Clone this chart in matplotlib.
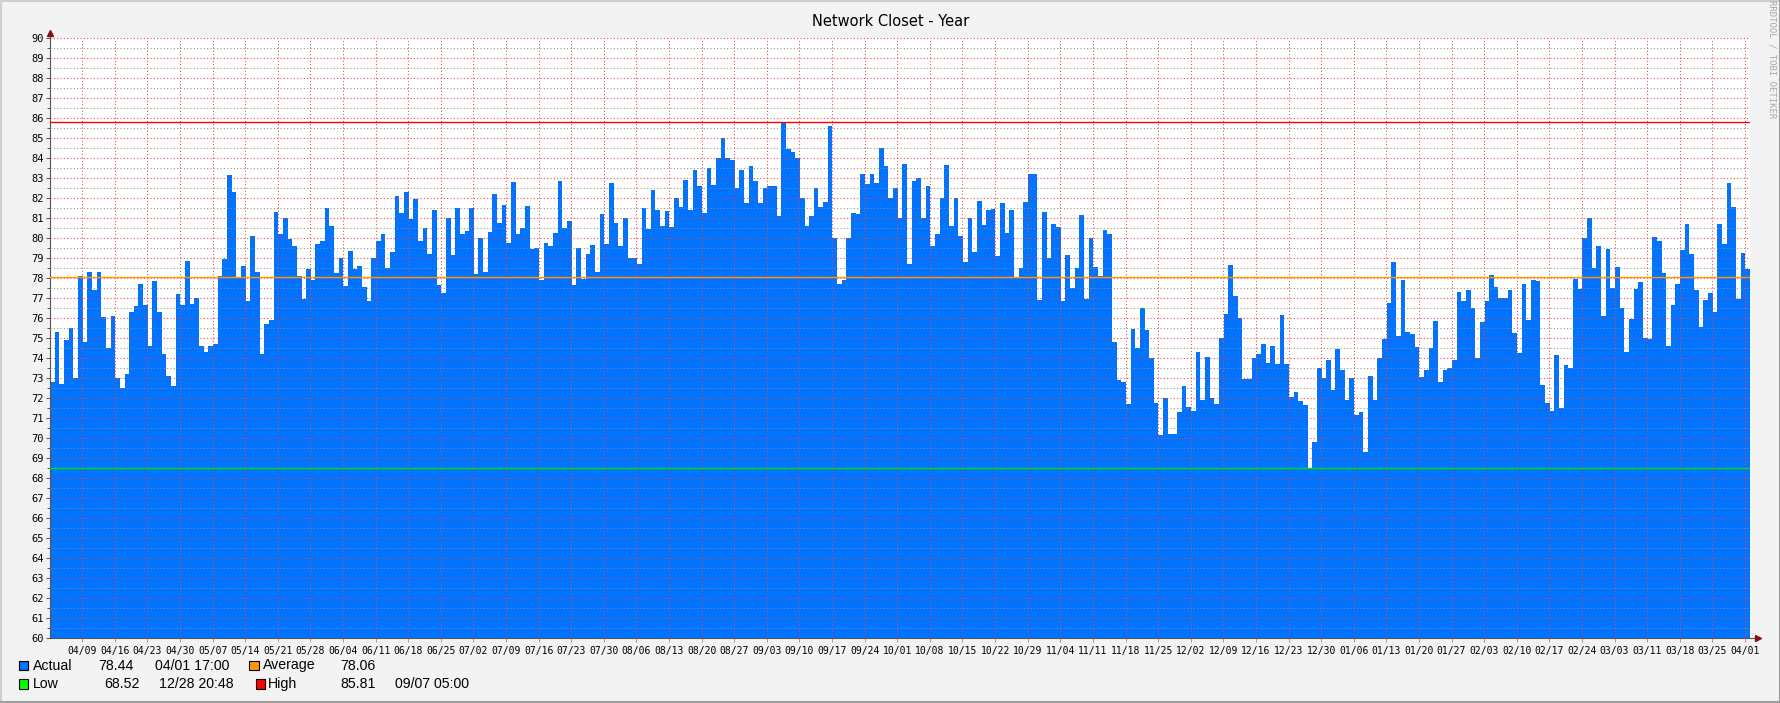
import numpy as np
import matplotlib.pyplot as plt
from matplotlib.patches import Rectangle
from matplotlib.lines import Line2D

plt.rcParams['font.family'] = 'DejaVu Sans Mono'

# daily temperature readings, 2017-04-02 .. 2018-04-01
start = np.datetime64('2017-04-02T02:00')
spring = [72.8, 75.3, 72.7, 74.9, 75.5, 73.0, 78.1, 74.8, 78.3, 77.4,
          78.3, 76.05, 74.5, 76.1, 73.0, 72.5, 73.2, 76.3, 76.6, 77.7,
          76.65, 74.6, 77.85, 76.3, 74.2, 73.1, 72.6, 77.2, 76.65, 78.85,
          76.7, 77.0, 74.6, 74.3, 74.6, 74.7, 78.1, 78.95, 83.15, 82.3,
          78.0, 78.6, 76.85, 80.1, 78.3, 74.2, 75.7, 75.9, 81.3, 80.2,
          81.0, 79.95, 79.6, 78.1, 76.95, 78.45, 77.9, 79.7, 79.85, 81.5,
          80.6, 78.25, 79.0, 77.6, 79.35, 78.45, 78.6, 77.55, 76.85, 79.0,
          79.85, 80.2, 78.5, 79.3, 82.1, 81.25, 82.3, 80.95, 81.95, 79.85,
          80.5, 79.2, 81.4, 77.65, 77.25, 81.0, 79.15, 81.5, 80.2, 80.35, 81.5]
summer = [78.2, 80.0, 78.3, 80.3, 82.2, 80.75, 81.65, 79.75, 82.8, 80.2,
          80.5, 81.6, 79.45, 79.5, 77.9, 79.75, 79.6, 80.25, 82.85, 80.5,
          80.85, 77.65, 79.5, 77.95, 79.2, 79.65, 78.3, 81.2, 79.7, 82.75,
          80.75, 79.6, 81.0, 79.0, 79.0, 78.7, 81.5, 80.45, 82.4, 81.4,
          80.6, 81.35, 80.55, 82.0, 81.55, 82.9, 81.4, 83.4, 82.6, 81.25,
          83.5, 82.65, 84.0, 85.0, 84.0, 83.9, 82.5, 83.4, 81.75, 83.6,
          82.85, 81.75, 82.5, 82.6, 82.6, 81.1, 85.81, 84.45, 84.3, 84.0,
          82.0, 80.6, 81.1, 82.5, 81.55, 81.8, 85.6, 80.0, 77.7, 77.9,
          80.0, 81.25, 81.2, 83.2, 82.7, 83.2, 82.75, 84.5, 83.6, 82.0, 82.5]
autumn = [81.0, 83.7, 78.7, 82.85, 83.0, 81.0, 82.6, 79.6, 80.2, 82.0,
          83.65, 80.6, 82.0, 80.1, 78.8, 81.0, 79.3, 81.85, 80.65, 81.4,
          81.45, 79.1, 81.75, 80.25, 81.4, 78.05, 78.5, 81.8, 83.2, 83.2,
          76.9, 81.3, 79.0, 80.7, 80.55, 76.85, 79.15, 77.5, 78.5, 81.15,
          76.95, 80.0, 78.55, 78.1, 80.4, 80.2, 74.8, 72.9, 72.8, 71.7,
          75.45, 74.5, 76.5, 75.4, 74.0, 71.75, 70.15, 72.0, 70.2, 70.2,
          71.3, 72.6, 71.55, 71.35, 74.3, 71.9, 74.05, 72.0, 71.7, 75.0,
          76.2, 78.65, 77.1, 76.0, 72.95, 72.95, 74.0, 74.2, 74.7, 73.75,
          74.6, 73.7, 76.15, 73.7, 72.05, 72.3, 71.85, 71.65, 68.52, 69.8, 73.5]
winter = [73.0, 73.9, 72.4, 74.45, 73.4, 71.9, 73.0, 71.15, 71.3, 69.3,
          73.1, 71.9, 74.0, 74.95, 76.75, 78.8, 75.1, 77.9, 75.3, 75.2,
          74.55, 73.05, 73.4, 74.5, 75.85, 72.8, 73.4, 73.5, 73.9, 77.3,
          76.85, 77.4, 76.5, 74.0, 75.8, 76.85, 78.15, 77.55, 77.0, 77.0,
          77.4, 75.25, 74.25, 77.7, 75.9, 77.9, 77.85, 72.65, 71.75, 71.35,
          74.15, 71.5, 73.65, 73.5, 77.95, 77.45, 80.0, 81.0, 78.5, 79.6,
          76.1, 79.45, 77.5, 78.55, 76.5, 74.3, 75.95, 77.45, 77.8, 75.0,
          74.95, 80.05, 79.85, 78.25, 74.6, 76.65, 77.7, 79.4, 80.7, 79.2,
          77.4, 75.55, 76.9, 77.25, 76.3, 80.7, 79.7, 82.75, 81.55, 76.95, 79.25, 78.45]
actual = spring + summer + autumn + winter

last_val, last_time = 78.44, '04/01 17:00'
avg_val = 78.06
low_val, low_time = 68.52, '12/28 20:48'
high_val, high_time = 85.81, '09/07 05:00'

first_tick = np.datetime64('2017-04-09T00:00')
tick_labels = ['04/09', '04/16', '04/23', '04/30', '05/07', '05/14', '05/21', '05/28',
               '06/04', '06/11', '06/18', '06/25', '07/02', '07/09', '07/16', '07/23',
               '07/30', '08/06', '08/13', '08/20', '08/27', '09/03', '09/10', '09/17',
               '09/24', '10/01', '10/08', '10/15', '10/22', '10/29', '11/04', '11/11',
               '11/18', '11/25', '12/02', '12/09', '12/16', '12/23', '12/30', '01/06',
               '01/13', '01/20', '01/27', '02/03', '02/10', '02/17', '02/24', '03/03',
               '03/11', '03/18', '03/25', '04/01']

BLUE = '#0073FF'
ORANGE = '#FF9900'
GREEN = '#00E000'
RED = '#FF0000'

W, H = 1781, 703
fig = plt.figure(figsize=(W / 100, H / 100), dpi=100, facecolor='#F3F3F3')
ax = fig.add_axes([50 / W, 1 - 638 / H, 1700 / W, 600 / H])
ax.set_facecolor('white')

day = np.timedelta64(1, 'D')
edges = np.arange(len(actual) + 1)
ax.stairs(actual, edges, baseline=60, fill=True, color=BLUE, lw=0, zorder=1)

ax.axhline(high_val, color=RED, lw=1.0, zorder=4)
ax.axhline(avg_val, color=ORANGE, lw=1.0, zorder=4)
ax.axhline(low_val, color=GREEN, lw=1.0, zorder=4)

ax.set_xlim(0, 365)
ax.set_ylim(60, 90)

tick_pos = (first_tick + 7 * np.arange(len(tick_labels)) * day - start) / day
ax.set_xticks(tick_pos)
ax.set_xticklabels(tick_labels)
ax.set_yticks(np.arange(60, 91))
ax.set_yticks(np.arange(60.5, 90, 1), minor=True)

ax.set_axisbelow(False)
ax.grid(True, which='major', color=(0.95, 0.25, 0.25, 0.4), linestyle=(0, (1, 2.2)), lw=0.75)
ax.yaxis.grid(True, which='minor', color=(0.55, 0.55, 0.55, 0.45), linestyle=(0, (1, 2.2)), lw=0.75)

ax.tick_params(axis='y', which='major', length=3, width=0.7, color='#555555',
               pad=1.5, labelsize=7.5)
ax.tick_params(axis='y', which='minor', length=2, width=0.7, color='#555555')
ax.tick_params(axis='x', which='major', length=3, width=0.7, color=(1, 0, 0, 0.5),
               pad=3, labelsize=7)

for s in ['top', 'right']:
    ax.spines[s].set_visible(False)
for s in ['left', 'bottom']:
    ax.spines[s].set_color('#555555')
    ax.spines[s].set_linewidth(0.8)

# axis arrows
ax.add_line(Line2D([0, 0], [1, 1.008], transform=ax.transAxes, color='#555555',
                   lw=0.8, clip_on=False))
ax.add_line(Line2D([1, 1.004], [0, 0], transform=ax.transAxes, color='#555555',
                   lw=0.8, clip_on=False))
ax.plot([0], [1.009], marker='^', ms=5, color='#8B1010', transform=ax.transAxes,
        clip_on=False)
ax.plot([1.0045], [0], marker='>', ms=5, color='#8B1010', transform=ax.transAxes,
        clip_on=False)

fig.text(890.5 / W, 1 - 21.5 / H, 'Network Closet - Year', ha='center', va='center',
         fontsize=10.5, family='DejaVu Sans', color='black')
fig.text(1772 / W, 1 - 59 / H, 'RRDTOOL / TOBI OETIKER', rotation=270, ha='center',
         va='center', fontsize=6.5, color='#A8A8A8')

# legend
def legend_box(x, y, color):
    fig.patches.append(Rectangle((x / W, 1 - (y + 4.5) / H), 9.5 / W, 9.5 / H,
                                 facecolor=color, edgecolor='black', lw=0.8,
                                 transform=fig.transFigure))

def legend_text(x, y, s):
    fig.text(x / W, 1 - y / H, s, ha='left', va='center', fontsize=10.2,
             family='Liberation Sans', color='black')

r1, r2 = 665.5, 684
legend_box(19, r1, BLUE)
legend_text(32.5, r1, 'Actual')
legend_text(98.7, r1, f'{last_val:.2f}')
legend_text(155, r1, last_time)
legend_box(249.5, r1, ORANGE)
legend_text(262.5, r1, 'Average')
legend_text(339.8, r1, f'{avg_val:.2f}')

legend_box(19, r2, '#00FF00')
legend_text(32.5, r2, 'Low')
legend_text(104, r2, f'{low_val:.2f}')
legend_text(159, r2, low_time)
legend_box(255.6, r2, RED)
legend_text(268, r2, 'High')
legend_text(340, r2, f'{high_val:.2f}')
legend_text(395, r2, high_time)

# 3d frame
fig.add_artist(Line2D([0, 1], [1 - 1 / H, 1 - 1 / H], color='#CFCFCF', lw=1.5))
fig.add_artist(Line2D([1 / W, 1 / W], [0, 1], color='#CFCFCF', lw=1.5))
fig.add_artist(Line2D([0, 1], [1 / H, 1 / H], color='#9E9E9E', lw=1.5))
fig.add_artist(Line2D([1 - 1 / W, 1 - 1 / W], [0, 1], color='#9E9E9E', lw=1.5))

fig.savefig('out.png', dpi=100, facecolor=fig.get_facecolor())
